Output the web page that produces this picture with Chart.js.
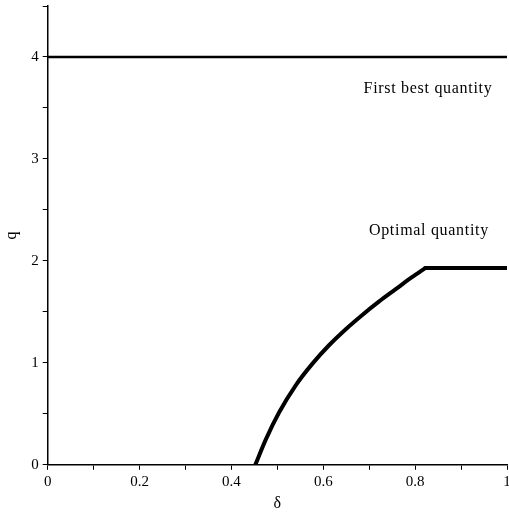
<!DOCTYPE html>
<html>
<head>
<meta charset="utf-8">
<script src="https://cdn.jsdelivr.net/npm/chart.js@4"></script>
<style>
  html, body { margin: 0; padding: 0; background: #fff; }
  #wrap { width: 509px; height: 515px; }
</style>
</head>
<body>
<div id="wrap"><canvas id="qChart"></canvas></div>
<script>
const deltaFirstBest = [0, 1];
const qFirstBest = [4, 4];

// optimal quantity: rising part, then the flat part after the kink
const deltaOptimal = [0.452, 0.475, 0.504, 0.54, 0.576, 0.612, 0.649, 0.685, 0.721, 0.757, 0.793, 0.822];
const qOptimal = [0, 0.25, 0.515, 0.78, 0.99, 1.17, 1.33, 1.47, 1.6, 1.72, 1.84, 1.93];
const deltaOptimalFlat = [0.822, 1];
const qOptimalFlat = [1.93, 1.93];

const curveLabels = ["First best quantity", "Optimal quantity"];

const serif = "'Liberation Serif', 'Times New Roman', serif";
const ink = "#000";

function toPoints(xs, ys) {
  return xs.map((x, i) => ({ x: x, y: ys[i] }));
}

// text next to each curve
const curveText = {
  id: "curveText",
  afterDatasetsDraw(chart) {
    const { ctx, scales } = chart;
    const spots = [
      { x: 0.828, y: 3.65 },
      { x: 0.83, y: 2.25 },
    ];
    ctx.save();
    ctx.font = "16px " + serif;
    ctx.letterSpacing = "0.7px";
    ctx.fillStyle = ink;
    ctx.textAlign = "center";
    ctx.textBaseline = "alphabetic";
    curveLabels.forEach((t, i) => {
      ctx.fillText(t, scales.x.getPixelForValue(spots[i].x), scales.y.getPixelForValue(spots[i].y));
    });
    ctx.restore();
  },
};

const qConfig = {
  type: "scatter",
  data: {
    datasets: [
      {
        label: curveLabels[0],
        data: toPoints(deltaFirstBest, qFirstBest),
        showLine: true,
        borderColor: ink,
        borderWidth: 2.5,
        pointRadius: 0,
      },
      {
        label: curveLabels[1],
        data: toPoints(deltaOptimal, qOptimal),
        showLine: true,
        borderColor: ink,
        borderWidth: 4,
        borderJoinStyle: "round",
        borderCapStyle: "round",
        pointRadius: 0,
        cubicInterpolationMode: "monotone",
      },
      {
        label: curveLabels[1],
        data: toPoints(deltaOptimalFlat, qOptimalFlat),
        showLine: true,
        borderColor: ink,
        borderWidth: 4,
        borderCapStyle: "round",
        pointRadius: 0,
      },
    ],
  },
  options: {
    responsive: true,
    maintainAspectRatio: false,
    animation: false,
    layout: { padding: { top: 6, right: 2, left: 2, bottom: 2 } },
    plugins: {
      legend: { display: false },
      tooltip: { enabled: false },
    },
    scales: {
      x: {
        type: "linear",
        min: 0,
        max: 1,
        border: { color: ink, width: 1.5 },
        grid: { drawOnChartArea: false, color: ink, tickLength: 5, lineWidth: 1 },
        ticks: {
          stepSize: 0.1,
          color: ink,
          font: { family: serif, size: 15 },
          padding: 3,
          maxRotation: 0,
          autoSkip: false,
          callback: (v) => {
            const r = Math.round(v * 10);
            return r % 2 === 0 ? String(r / 10) : "";
          },
        },
        title: {
          display: true,
          text: "δ",
          color: ink,
          font: { family: serif, size: 16 },
          padding: { top: 0, bottom: 0 },
        },
        afterFit: (s) => {
          s.paddingLeft = 0;
          s.paddingRight = 0;
        },
      },
      y: {
        type: "linear",
        min: 0,
        max: 4.5,
        border: { color: ink, width: 1.5 },
        grid: { drawOnChartArea: false, color: ink, tickLength: 5, lineWidth: 1 },
        ticks: {
          stepSize: 0.5,
          color: ink,
          font: { family: serif, size: 15 },
          padding: 4,
          autoSkip: false,
          callback: (v) => (Number.isInteger(v) ? String(v) : ""),
        },
        title: {
          display: true,
          text: "q",
          color: ink,
          font: { family: serif, size: 16 },
          padding: { top: 0, bottom: 6 },
        },
        afterFit: (s) => {
          s.paddingTop = 0;
          s.paddingBottom = 0;
        },
      },
    },
  },
  plugins: [curveText],
};

const qChart = new Chart(document.getElementById("qChart"), qConfig);
</script>
</body>
</html>
